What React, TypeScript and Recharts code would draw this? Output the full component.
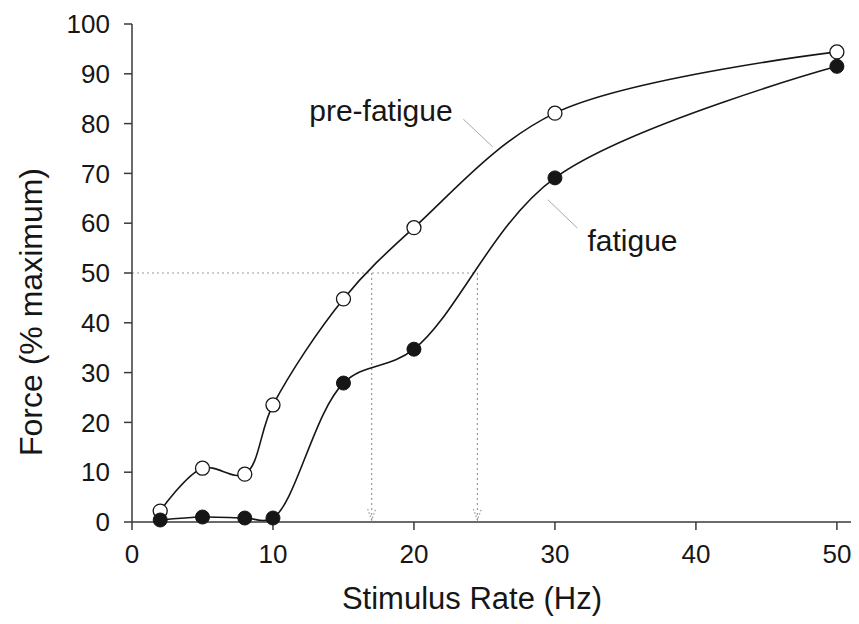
import { LineChart, Line, XAxis, YAxis, ReferenceLine, ReferenceDot, Label } from "recharts";

const rates = [2, 5, 8, 10, 15, 20, 30, 50];
const preFatigue = [2.2, 10.8, 9.6, 23.5, 44.8, 59.1, 82.1, 94.4];
const fatigue = [0.4, 1.0, 0.8, 0.8, 27.9, 34.7, 69.1, 91.5];

const xTicks = [0, 10, 20, 30, 40, 50];
const yTicks = [0, 10, 20, 30, 40, 50, 60, 70, 80, 90, 100];

// 50% force read-off and the two rates where each curve crosses it
const halfForce = 50;
const halfRates = [17, 24.5];

const FONT = '"Liberation Sans", Arial, sans-serif';
const INK = "#161616";
const AXIS = "#3a3a3a";
const GUIDE = "#9a9a9a";

const chartData = rates.map((r, i) => ({
  rate: r,
  pre: preFatigue[i],
  fat: fatigue[i],
}));

// centripetal catmull-rom spline (same maths as d3's curveCatmullRom, alpha .5)
function catmullRom(context: any) {
  const alpha = 0.5;
  let x0 = NaN, x1 = NaN, x2 = NaN, y0 = NaN, y1 = NaN, y2 = NaN;
  let l01a = 0, l12a = 0, l23a = 0, l01_2a = 0, l12_2a = 0, l23_2a = 0;
  let n = 0;

  function seg(x: number, y: number) {
    let cx1 = x1, cy1 = y1, cx2 = x2, cy2 = y2;
    if (l01a > 1e-12) {
      const a = 2 * l01_2a + 3 * l01a * l12a + l12_2a;
      const m = 3 * l01a * (l01a + l12a);
      cx1 = (x1 * a - x0 * l12_2a + x2 * l01_2a) / m;
      cy1 = (y1 * a - y0 * l12_2a + y2 * l01_2a) / m;
    }
    if (l23a > 1e-12) {
      const b = 2 * l23_2a + 3 * l23a * l12a + l12_2a;
      const m = 3 * l23a * (l23a + l12a);
      cx2 = (x2 * b + x1 * l23_2a - x * l12_2a) / m;
      cy2 = (y2 * b + y1 * l23_2a - y * l12_2a) / m;
    }
    context.bezierCurveTo(cx1, cy1, cx2, cy2, x2, y2);
  }

  const curve = {
    areaStart() {},
    areaEnd() {},
    lineStart() {
      x0 = x1 = x2 = y0 = y1 = y2 = NaN;
      l01a = l12a = l23a = l01_2a = l12_2a = l23_2a = 0;
      n = 0;
    },
    lineEnd() {
      if (n === 2) context.lineTo(x2, y2);
      else if (n === 3) curve.point(x2, y2);
    },
    point(x: number, y: number) {
      if (n) {
        const dx = x2 - x, dy = y2 - y;
        l23_2a = Math.pow(dx * dx + dy * dy, alpha);
        l23a = Math.sqrt(l23_2a);
      }
      if (n === 0) {
        n = 1;
        context.moveTo(x, y);
      } else if (n === 1) {
        n = 2;
      } else {
        n = 3;
        seg(x, y);
      }
      l01a = l12a; l12a = l23a;
      l01_2a = l12_2a; l12_2a = l23_2a;
      x0 = x1; x1 = x2; x2 = x;
      y0 = y1; y1 = y2; y2 = y;
    },
  };
  return curve;
}

function Arrow(props: any) {
  const { cx, cy } = props;
  return (
    <path
      d={`M${cx - 4},${cy - 13} L${cx},${cy - 2} L${cx + 4},${cy - 13}`}
      fill="none"
      stroke={GUIDE}
      strokeWidth={1.2}
      strokeDasharray="1.5 2"
    />
  );
}

function textShape(text: string) {
  return (props: any) => (
    <text
      x={props.cx}
      y={props.cy}
      textAnchor="middle"
      dominantBaseline="central"
      fontSize={30}
      fontFamily={FONT}
      fill={INK}
    >
      {text}
    </text>
  );
}

export default function App() {
  return (
    <div style={{ position: "absolute", left: 0, top: 0, width: 859, height: 624, background: "#fff" }}>
      <LineChart
        width={859}
        height={624}
        data={chartData}
        margin={{ top: 24, right: 8, bottom: 0, left: 0 }}
        style={{ fontFamily: FONT }}
      >
        <XAxis
          dataKey="rate"
          type="number"
          domain={[0, 51]}
          ticks={xTicks}
          height={102}
          stroke={AXIS}
          strokeWidth={1.5}
          tickSize={8}
          tickMargin={15}
          tick={{ fontSize: 26, fill: INK, fontFamily: FONT }}
        >
          <Label
            content={() => (
              <text x={472} y={609} textAnchor="middle" fontSize={31} fontFamily={FONT} fill={INK}>
                Stimulus Rate (Hz)
              </text>
            )}
          />
        </XAxis>
        <YAxis
          type="number"
          domain={[0, 100]}
          ticks={yTicks}
          width={132}
          stroke={AXIS}
          strokeWidth={1.5}
          tickSize={8}
          tickMargin={14}
          tick={{ fontSize: 26, fill: INK, fontFamily: FONT }}
        >
          <Label
            content={() => (
              <text
                x={31}
                y={312}
                transform="rotate(-90 31 312)"
                textAnchor="middle"
                dominantBaseline="central"
                fontSize={32}
                fontFamily={FONT}
                fill={INK}
              >
                Force (% maximum)
              </text>
            )}
          />
        </YAxis>

        <ReferenceLine
          segment={[{ x: 0, y: halfForce }, { x: halfRates[1], y: halfForce }]}
          stroke={GUIDE}
          strokeWidth={1.2}
          strokeDasharray="2 3"
        />
        {halfRates.map((r) => (
          <ReferenceLine
            key={`v${r}`}
            segment={[{ x: r, y: halfForce }, { x: r, y: 0 }]}
            stroke={GUIDE}
            strokeWidth={1.2}
            strokeDasharray="2 3"
          />
        ))}
        {halfRates.map((r) => (
          <ReferenceDot key={`a${r}`} x={r} y={0} r={0} shape={Arrow} />
        ))}

        <ReferenceLine
          segment={[{ x: 23.5, y: 80.9 }, { x: 25.6, y: 75.3 }]}
          stroke="#a8a8a8"
          strokeWidth={1}
        />
        <ReferenceLine
          segment={[{ x: 29.5, y: 64.7 }, { x: 31.6, y: 59.0 }]}
          stroke="#a8a8a8"
          strokeWidth={1}
        />
        <ReferenceDot x={17.66} y={82.7} r={0} shape={textShape("pre-fatigue")} />
        <ReferenceDot x={35.5} y={56.6} r={0} shape={textShape("fatigue")} />

        <Line
          type={catmullRom as any}
          dataKey="pre"
          stroke={INK}
          strokeWidth={1.6}
          dot={{ r: 7, fill: "#fff", stroke: INK, strokeWidth: 1.3 }}
          isAnimationActive={false}
        />
        <Line
          type={catmullRom as any}
          dataKey="fat"
          stroke={INK}
          strokeWidth={1.6}
          dot={{ r: 7, fill: INK, stroke: INK, strokeWidth: 1 }}
          isAnimationActive={false}
        />
      </LineChart>
    </div>
  );
}
